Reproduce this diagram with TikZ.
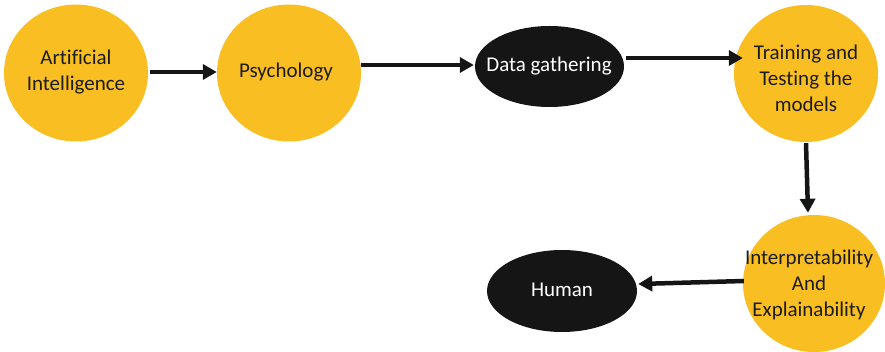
\documentclass[tikz,border=0pt]{standalone}
\usepackage{fontspec}
\setmainfont{Carlito}[RawFeature={-liga;-clig;-dlig}]
\usetikzlibrary{shapes.geometric,arrows.meta,calc}
\definecolor{stageyellow}{HTML}{F8BE22}
\definecolor{stageblack}{HTML}{151515}
\definecolor{inktext}{HTML}{1C1C1C}
\begin{document}
\begin{tikzpicture}[x=1pt,y=-1pt,
  stagefont/.style={font=\fontsize{21}{26}\selectfont, align=center},
  yellowstage/.style={ellipse, fill=stageyellow, draw=none, inner sep=0pt,
    minimum width=144pt, minimum height=137pt},
  blackstage/.style={ellipse, fill=stageblack, draw=none, inner sep=0pt,
    minimum width=149pt, minimum height=81pt},
  darktext/.style={stagefont, text=inktext, inner sep=0pt},
  lighttext/.style={stagefont, text=white, inner sep=0pt},
  flow/.style={draw=stageblack, line width=4.5pt,
    -{Triangle[length=14pt,width=15pt]}}]
\useasboundingbox (0,0) rectangle (885,352);

% stage shapes
\node[yellowstage] (ai) at (76,73) {};
\node[yellowstage] (psy) at (289,73) {};
\node[blackstage] (data) at (549.5,66.5) {};
\node[yellowstage] (train) at (806,73.5) {};
\node[yellowstage, minimum width=142pt] (interp) at (814,283.5) {};
\node[blackstage, minimum width=150pt, minimum height=82pt] (human) at (562,291) {};

% stage captions
\node[darktext] (aitext) at (76,72.5) {Artificial\\Intelligence};
\node[darktext] (psytext) at (286,72) {Psychology};
\node[lighttext] (datatext) at (549,66) {Data gathering};
\node[darktext] (traintext) at (806,78) {Training and\\Testing the\\models};
\node[darktext] (interptext) at (809,285) {Interpretability\\And\\Explainability};
\node[lighttext] (humantext) at (562,290) {Human};

% connectors
\draw[flow] ($(ai.east)+(2,-1)$) -- ($(psy.west)+(0,-1)$);
\draw[flow] ($(psy.east)+(0,-8)$) -- ($(data.west)+(-1,-1.5)$);
\draw[flow] ($(data.east)+(2,-8.5)$) -- ($(train.west)+(9,-15.5)$);
\draw[flow] ($(train.south)+(0,1)$) -- ($(interp.north)+(-6,-2)$);
\draw[flow] ($(interp.west)+(1,-2.5)$) -- ($(human.east)+(1,-7)$);
\end{tikzpicture}
\end{document}
